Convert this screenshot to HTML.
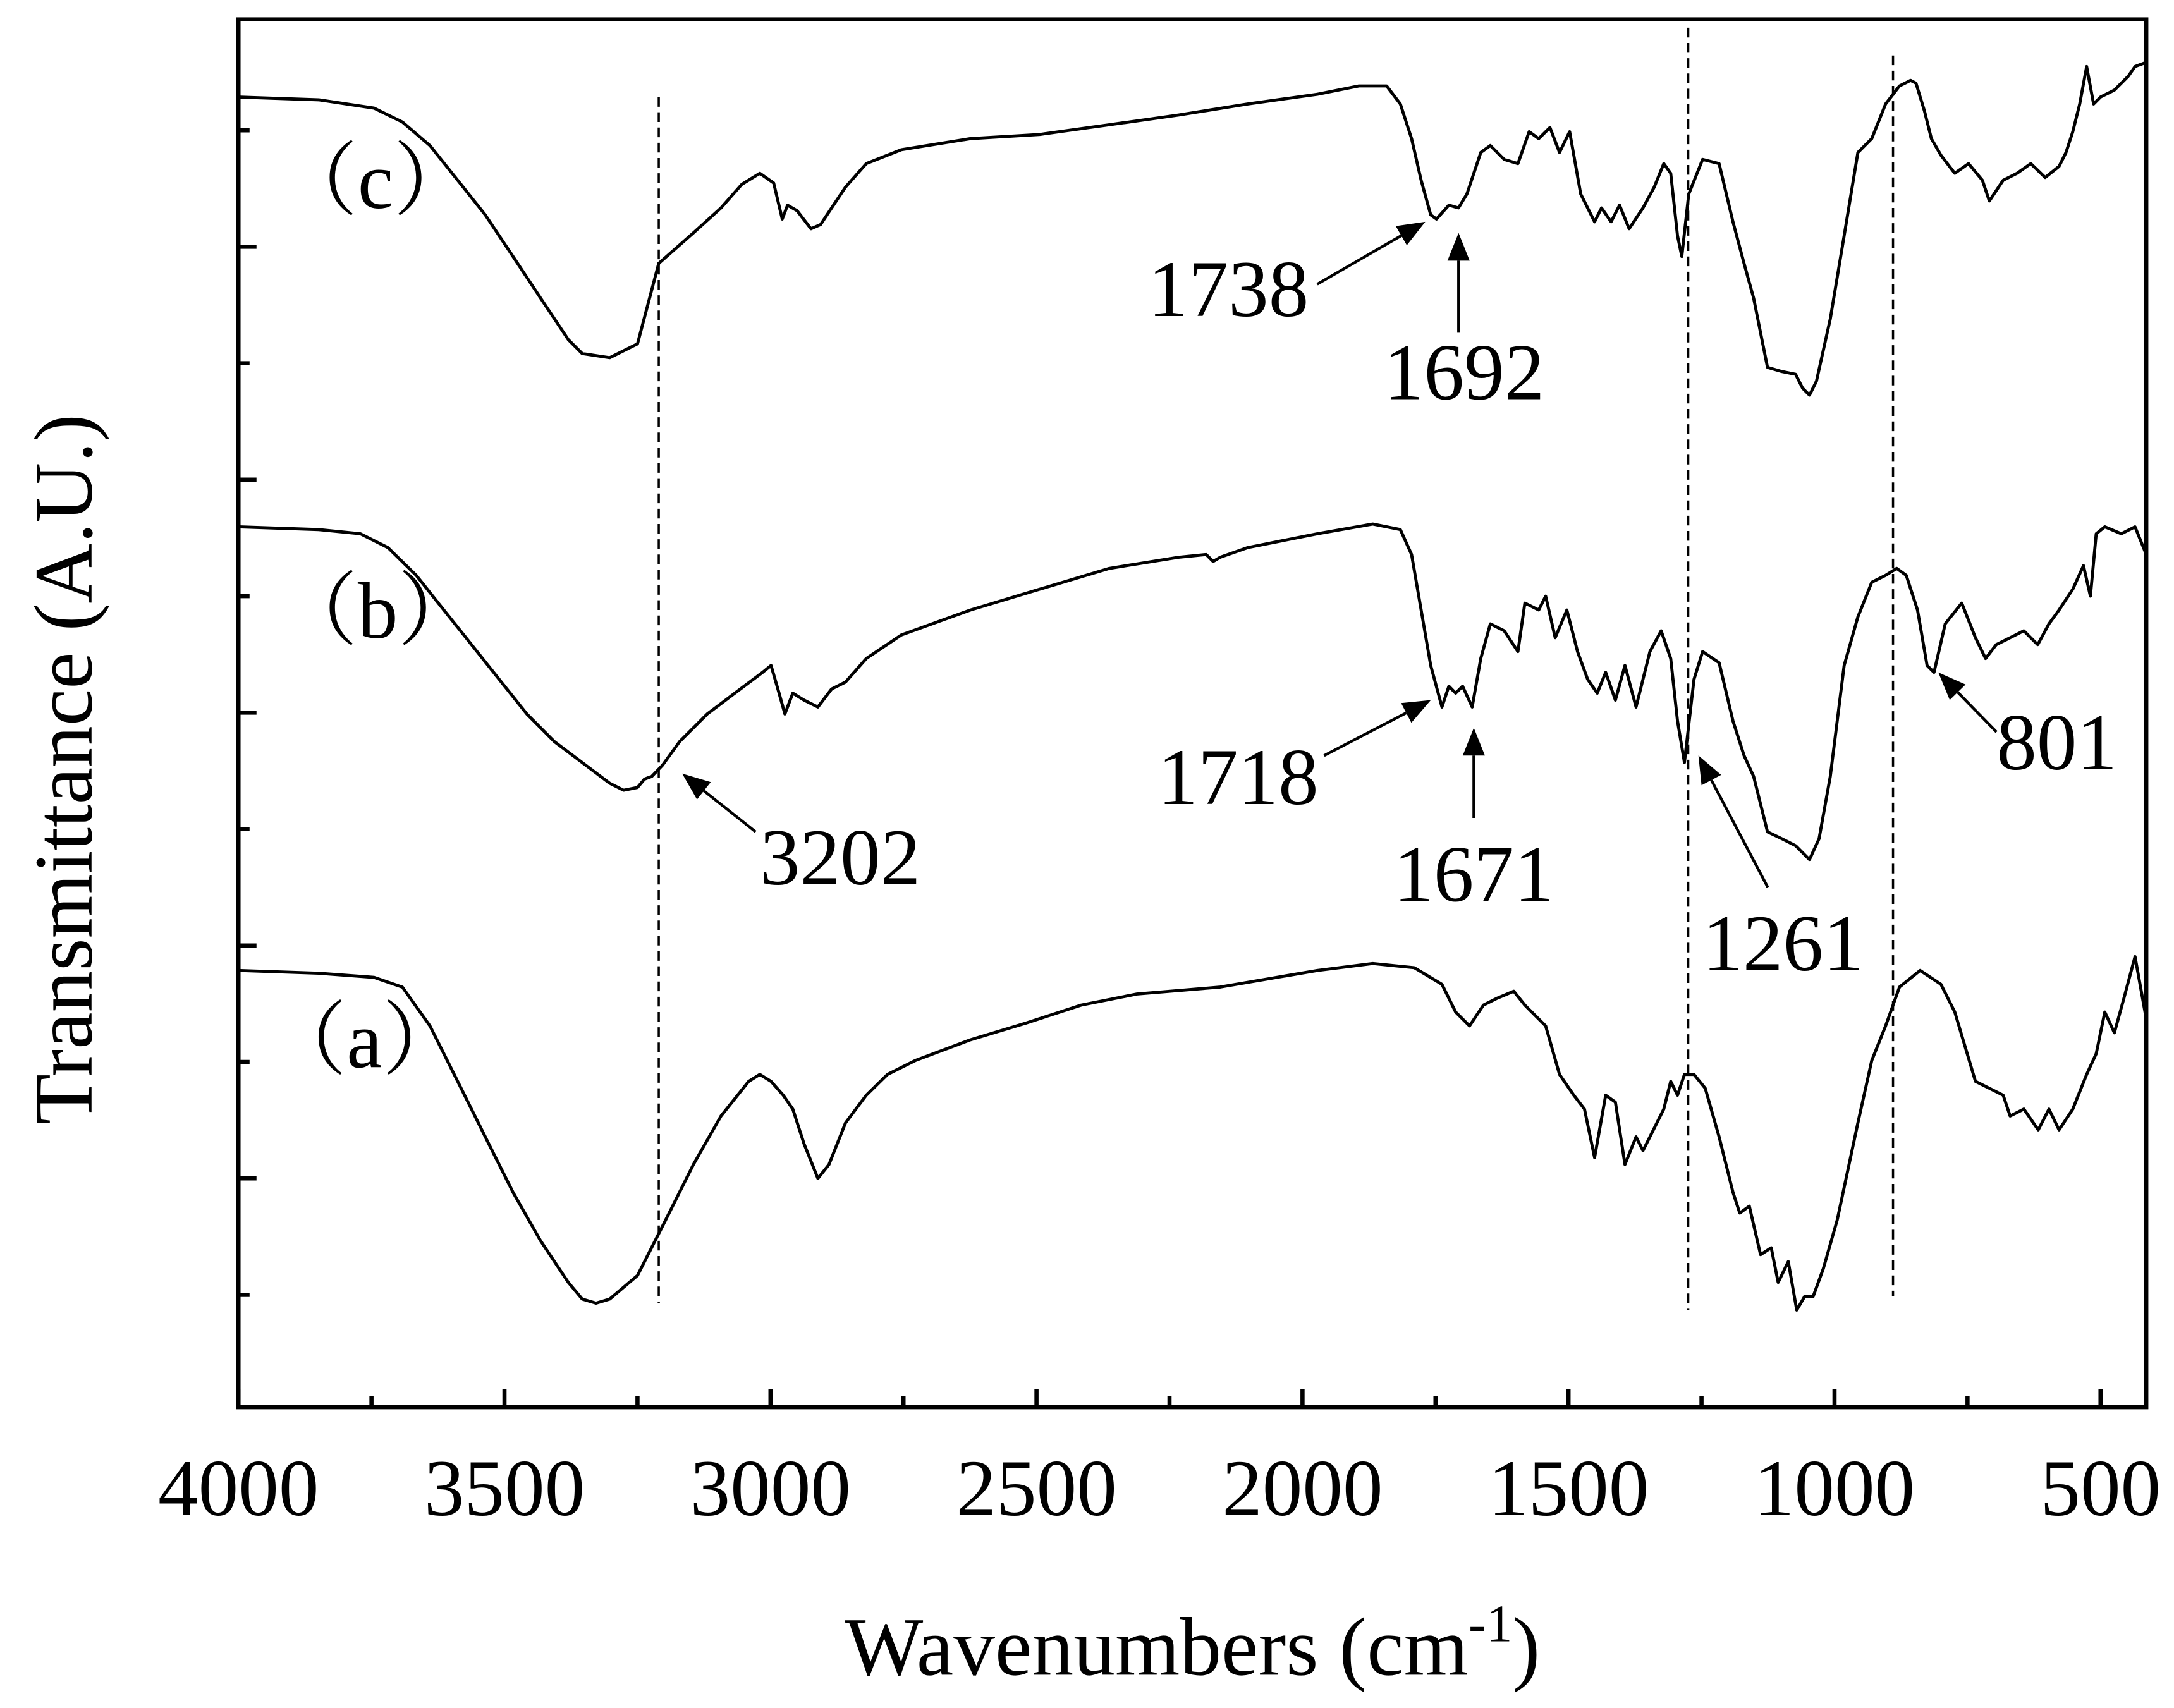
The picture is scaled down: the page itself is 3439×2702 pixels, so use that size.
<!DOCTYPE html>
<html><head><meta charset="utf-8"><style>html,body{margin:0;padding:0;background:#fff}svg{display:block}</style></head>
<body>
<svg id="chart" xmlns="http://www.w3.org/2000/svg" width="3439" height="2702" viewBox="0 0 1568 1232" preserveAspectRatio="none" font-family="'Liberation Serif', serif">
<rect x="0" y="0" width="1568" height="1232" fill="#fff"/>
<g id="plot"></g>
<g id="annot"></g>
<text x="860" y="1208" font-size="60" text-anchor="middle">Wavenumbers (cm<tspan font-size="38" dy="-24">-1</tspan><tspan dy="24">)</tspan></text>
<text transform="translate(66,555) rotate(-90)" font-size="60" text-anchor="middle">Transmittance (A.U.)</text>
</svg>
<script>
const waveC=[4000,3849,3745,3692,3640,3588,3536,3484,3432,3380,3354,3302,3250,3210,3145,3093,3054,3020,2994,2978,2968,2950,2924,2906,2885,2859,2820,2754,2624,2494,2363,2233,2103,1972,1894,1842,1816,1795,1777,1759,1748,1725,1707,1691,1665,1647,1621,1595,1574,1556,1535,1517,1498,1477,1451,1438,1420,1404,1386,1360,1339,1321,1308,1295,1287,1274,1248,1217,1191,1170,1152,1126,1099,1073,1060,1047,1034,1008,982,956,930,904,878,857,847,831,818,800,774,748,722,709,683,657,631,604,578,565,552,539,526,513,500,474,448,435,414];
const transC=[945,943,937,927,910,885,860,830,800,770,760,757,767,825,847,865,882,890,883,857,867,863,850,853,865,880,897,907,915,918,925,932,940,947,953,953,940,915,885,860,857,867,865,875,905,910,900,897,920,915,923,905,920,875,855,865,855,867,850,865,880,897,890,845,830,875,900,897,855,825,800,750,747,745,735,730,740,785,845,905,915,940,953,957,955,935,915,903,890,897,885,870,885,890,897,887,895,905,920,940,967,940,945,950,960,967,970];
const waveB=[4000,3849,3771,3719,3666,3614,3562,3510,3458,3406,3354,3302,3276,3250,3237,3223,3203,3171,3119,3067,3015,2999,2984,2973,2958,2937,2911,2885,2859,2820,2754,2624,2494,2363,2233,2181,2168,2155,2103,1972,1868,1816,1795,1777,1759,1738,1725,1712,1699,1681,1665,1647,1621,1595,1582,1556,1543,1525,1503,1483,1464,1446,1430,1412,1394,1373,1347,1326,1308,1295,1282,1264,1248,1217,1191,1170,1152,1126,1099,1073,1047,1029,1008,982,956,930,904,883,865,844,826,813,792,761,735,716,696,670,644,618,597,578,552,532,519,508,492,461,435,414];
const transB=[635,633,630,620,600,575,550,525,500,480,465,450,445,447,453,455,463,480,500,515,530,535,515,500,515,510,505,518,523,540,557,575,590,605,613,615,610,613,620,630,637,633,615,575,535,505,520,515,520,505,540,565,560,545,580,575,585,555,575,545,525,515,530,510,535,505,545,560,540,495,465,525,545,537,495,470,455,415,410,405,395,410,455,535,570,595,600,605,600,575,535,530,565,580,555,540,550,555,560,550,565,575,590,607,585,630,635,630,635,615];
const waveA=[4000,3849,3745,3692,3640,3588,3536,3484,3432,3380,3354,3328,3302,3250,3197,3145,3093,3041,3020,2999,2976,2958,2937,2911,2890,2859,2820,2780,2728,2624,2520,2416,2311,2155,1972,1868,1790,1738,1712,1686,1660,1634,1603,1582,1543,1517,1490,1470,1451,1430,1412,1394,1373,1360,1347,1321,1308,1295,1282,1264,1243,1217,1191,1178,1160,1139,1119,1106,1087,1071,1056,1040,1021,995,956,930,904,878,839,800,774,735,709,683,670,644,617,597,578,552,526,508,492,474,456,435,414];
const transA=[315,313,310,303,275,235,195,155,120,90,78,75,78,95,135,175,210,235,240,235,225,215,190,165,175,205,225,240,250,265,277,290,298,303,315,320,317,305,285,275,290,295,300,290,275,240,225,215,180,225,220,175,195,185,195,215,235,225,240,240,230,195,155,140,145,110,115,90,105,70,80,80,100,135,205,250,275,303,315,305,285,235,230,225,210,215,200,215,200,215,240,255,285,270,295,325,280];
const dashWaves=[3210,1275,890];
const dashTops=[945,995,975];
const dashBottoms=[75,70,80];
const xTickMajor=[4000,3500,3000,2500,2000,1500,1000,500];
const xTickMinor=[3750,3250,2750,2250,1750,1250,750];
const yTickMajor=[165,333,501,669,837];
const yTickMinor=[81,249,417,585,753,921];

const X0=172,X1=1548,Y0=14,Y1=1015;
const wMin=4000,wMax=414,tMin=0,tMax=1001;
const sx=w=>X0+(wMin-w)/(wMin-wMax)*(X1-X0);
const sy=t=>Y1-(t-tMin)/(tMax-tMin)*(Y1-Y0);
const NS='http://www.w3.org/2000/svg';
const plot=document.getElementById('plot');
function mk(tag,attrs,parent){const e=document.createElementNS(NS,tag);for(const k in attrs)e.setAttribute(k,attrs[k]);(parent||plot).appendChild(e);return e;}

// dashed marker lines
dashWaves.forEach((w,i)=>{
  const l=mk('line',{x1:sx(w),x2:sx(w),y1:sy(dashTops[i]),y2:sy(dashBottoms[i]),stroke:'#000','stroke-width':1.6,'stroke-dasharray':'7,4'});
  
  
});

// curves
[[waveA,transA,'curve-a'],[waveB,transB,'curve-b'],[waveC,transC,'curve-c']].forEach(([ws,ts,name])=>{
  const d=ws.map((w,i)=>(i?'L':'M')+sx(w).toFixed(1)+','+sy(ts[i]).toFixed(1)).join('');
  const p=mk('path',{d:d,fill:'none',stroke:'#000','stroke-width':2.2,'stroke-linejoin':'round'});
  
  
});

// frame
const fr=mk('rect',{x:X0,y:Y0,width:X1-X0,height:Y1-Y0,fill:'none',stroke:'#000','stroke-width':3});



// x ticks
xTickMajor.forEach(w=>{
  const t=mk('line',{x1:sx(w),x2:sx(w),y1:Y1,y2:Y1-13,stroke:'#000','stroke-width':3});
  
  
  const lb=mk('text',{x:sx(w),y:1093,'font-size':58,'text-anchor':'middle'});
  lb.textContent=w;
  
  
});
xTickMinor.forEach(w=>{
  const t=mk('line',{x1:sx(w),x2:sx(w),y1:Y1,y2:Y1-8,stroke:'#000','stroke-width':3});
  
  
});
yTickMajor.forEach(v=>{
  const t=mk('line',{x1:X0,x2:X0+13,y1:sy(v),y2:sy(v),stroke:'#000','stroke-width':3});
  
  
});
yTickMinor.forEach(v=>{
  const t=mk('line',{x1:X0,x2:X0+8,y1:sy(v),y2:sy(v),stroke:'#000','stroke-width':3});
  
  
});

// annotations
const an=document.getElementById('annot');
const labels=[['（c）',200,150,'curve-c-label'],['（b）',200,460,'curve-b-label'],['（a）',192,770,'curve-a-label'],
 ['1738',828,228,'peak-1738-label'],['1692',998,288,'peak-1692-label'],['1718',835,580,'peak-1718-label'],
 ['1671',1005,650,'peak-1671-label'],['3202',548,638,'peak-3202-label'],['1261',1228,700,'peak-1261-label'],['801',1440,555,'peak-801-label']];
labels.forEach(([s,x,y,n])=>{
  const t=mk('text',{x:x,y:y,'font-size':58,'font-family':"'Liberation Serif','Noto Serif CJK SC',serif"},an);
  t.textContent=s;
  
  
});
const arrows=[[950,205,1028,160],[1052,240,1052,168],[955,545,1032,505],[1063,590,1063,525],[545,600,492,558],[1275,640,1225,545],[1440,528,1398,485]];
arrows.forEach(([x1,y1,x2,y2])=>{
  const g=mk('g',{},an);
  
  
  const a=Math.atan2(y2-y1,x2-x1),L=20,W=8;
  const bx=x2-L*Math.cos(a),by=y2-L*Math.sin(a);
  mk('line',{x1:x1,y1:y1,x2:bx,y2:by,stroke:'#000','stroke-width':2},g);
  mk('polygon',{points:`${x2},${y2} ${bx-W*Math.sin(a)},${by+W*Math.cos(a)} ${bx+W*Math.sin(a)},${by-W*Math.cos(a)}`,fill:'#000'},g);
});
</script>
</body></html>
